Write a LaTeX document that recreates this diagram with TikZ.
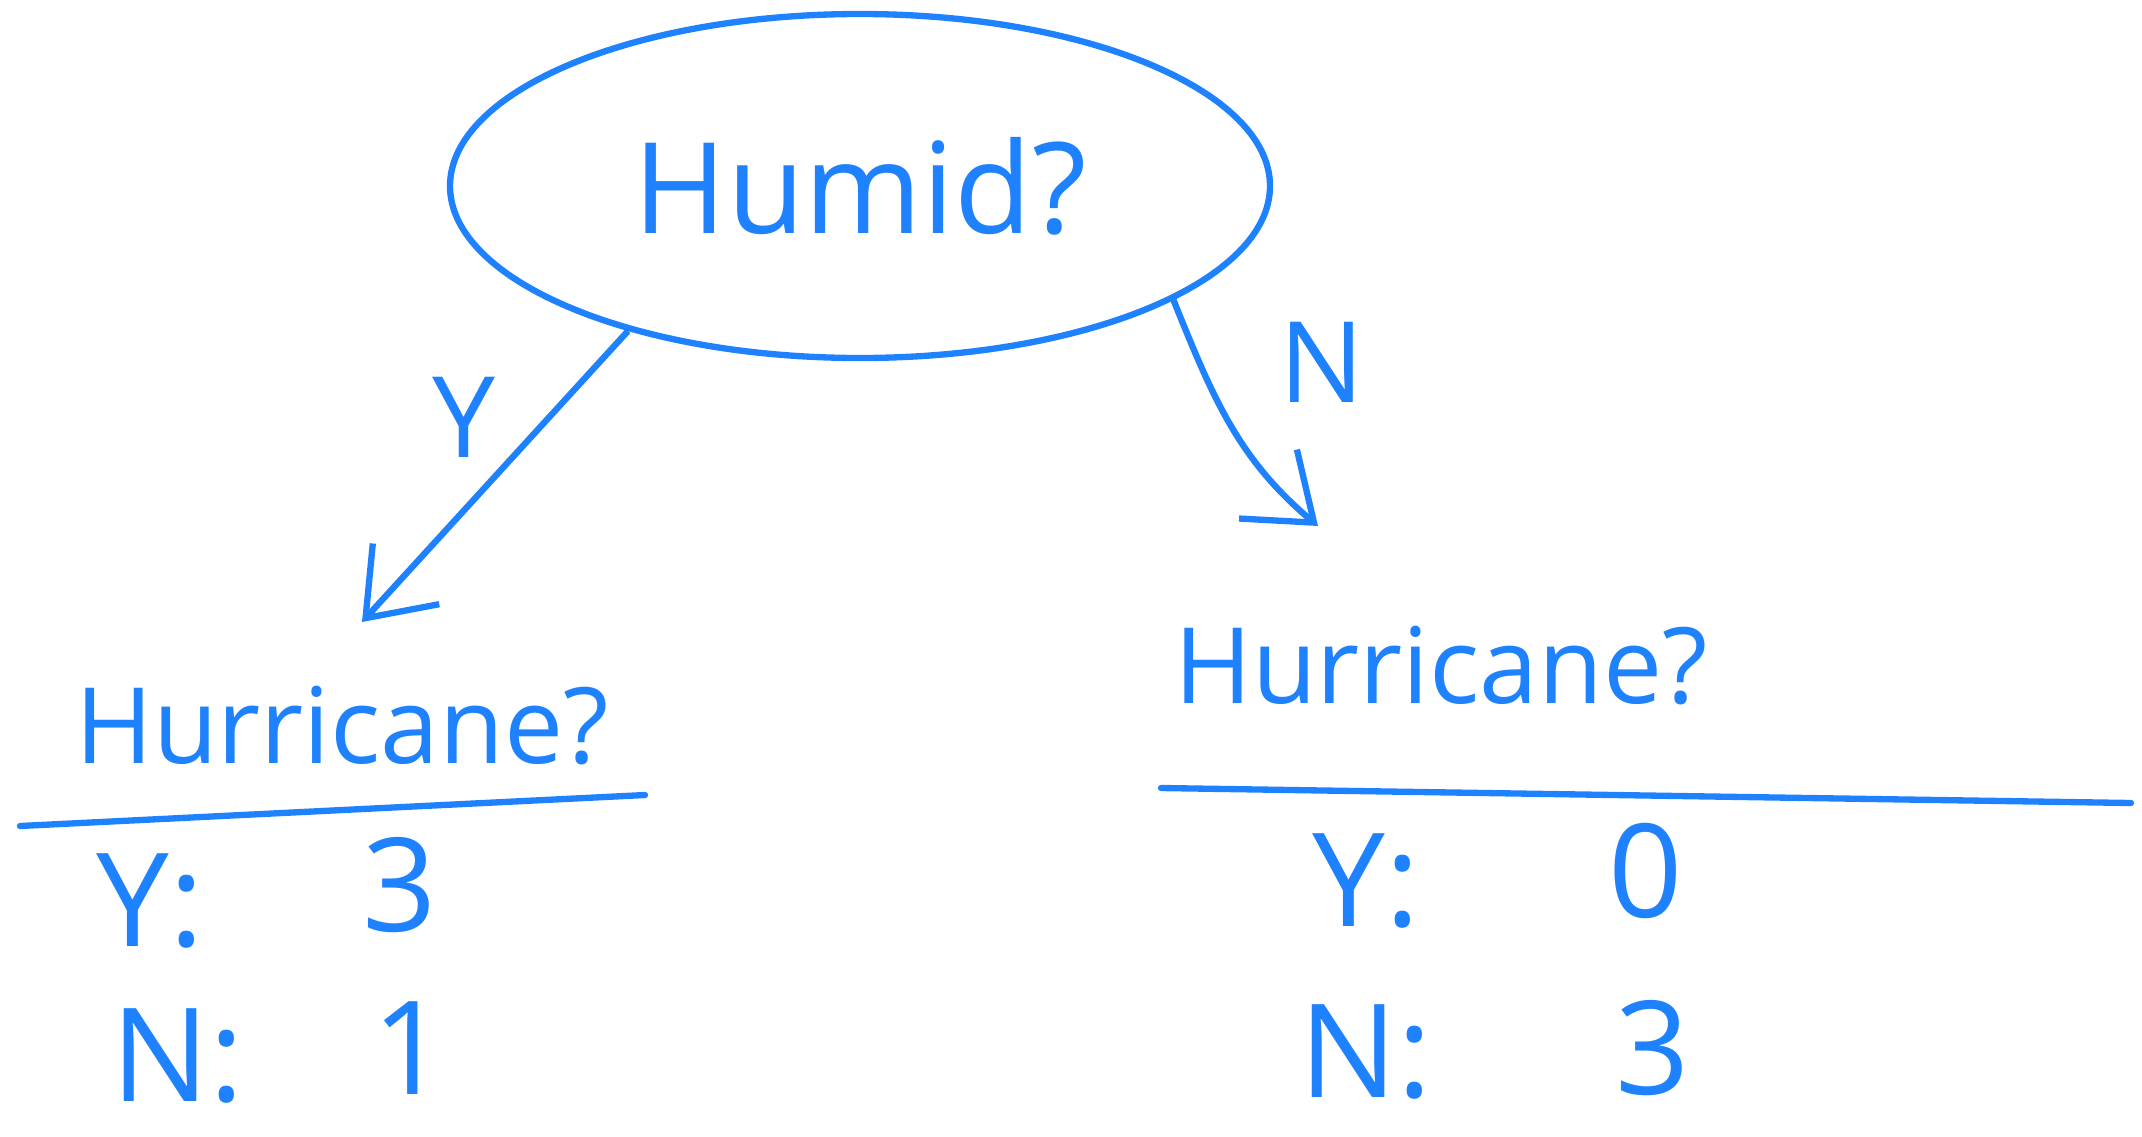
\documentclass[tikz,border=0pt]{standalone}
\usepackage{fontspec}
\setmainfont{Open Sans}
\usetikzlibrary{shapes.geometric, arrows.meta, positioning}
\definecolor{inkblue}{RGB}{30,130,255}

\begin{document}
\begin{tikzpicture}[
  question/.style={ellipse, draw=inkblue, line width=1.8pt, minimum width=8.2cm, minimum height=3.44cm, inner sep=0pt, text=inkblue, font=\fontsize{36}{40}\selectfont},
  leaf/.style={text=inkblue, inner sep=2pt, font=\fontsize{30}{36}\selectfont},
  count/.style={text=inkblue, inner sep=0pt, font=\fontsize{37}{40}\selectfont},
  lbl/.style={text=inkblue, inner sep=1pt, font=\fontsize{32}{36}\selectfont},
  arr/.style={-{Straight Barb[length=6mm, width=9mm]}, line width=1.8pt, inkblue},
  sep/.style={line width=1.8pt, inkblue, line cap=round},
]
  \useasboundingbox (0,0) rectangle (21.42,11.36);

  % root question
  \node[question] (humid) at (8.60,9.50) {Humid?};

  % leaves
  \node[leaf] (hurL) at (3.42,4.10) {Hurricane?};
  \node[leaf] (hurR) at (14.41,4.70) {Hurricane?};
  \draw[sep] (0.20,3.10) -- (6.45,3.41);
  \draw[sep] (11.61,3.48) -- (21.31,3.33);

  % branches
  \coordinate (ytip) at (3.62,5.14);
  \coordinate (ntip) at (13.18,6.10);
  \draw[arr] (humid.212) -- (ytip);
  \draw[arr] (humid.340) to[out=-68, in=140] (ntip);
  \node[lbl] (ylbl) at (4.64,7.19) {Y};
  \node[lbl] (nlbl) at (13.22,7.74) {N};

  % counts, left
  \node[count] (ly) at (1.50,2.35) {Y:};
  \node[count] (lyv) at (4.00,2.51) {3};
  \node[count] (ln) at (1.78,0.80) {N:};
  \node[count] (lnv) at (4.10,0.88) {1};

  % counts, right
  \node[count] (ry) at (13.66,2.55) {Y:};
  \node[count] (ryv) at (16.46,2.65) {0};
  \node[count] (rn) at (13.66,0.84) {N:};
  \node[count] (rnv) at (16.53,0.88) {3};
\end{tikzpicture}
\end{document}
